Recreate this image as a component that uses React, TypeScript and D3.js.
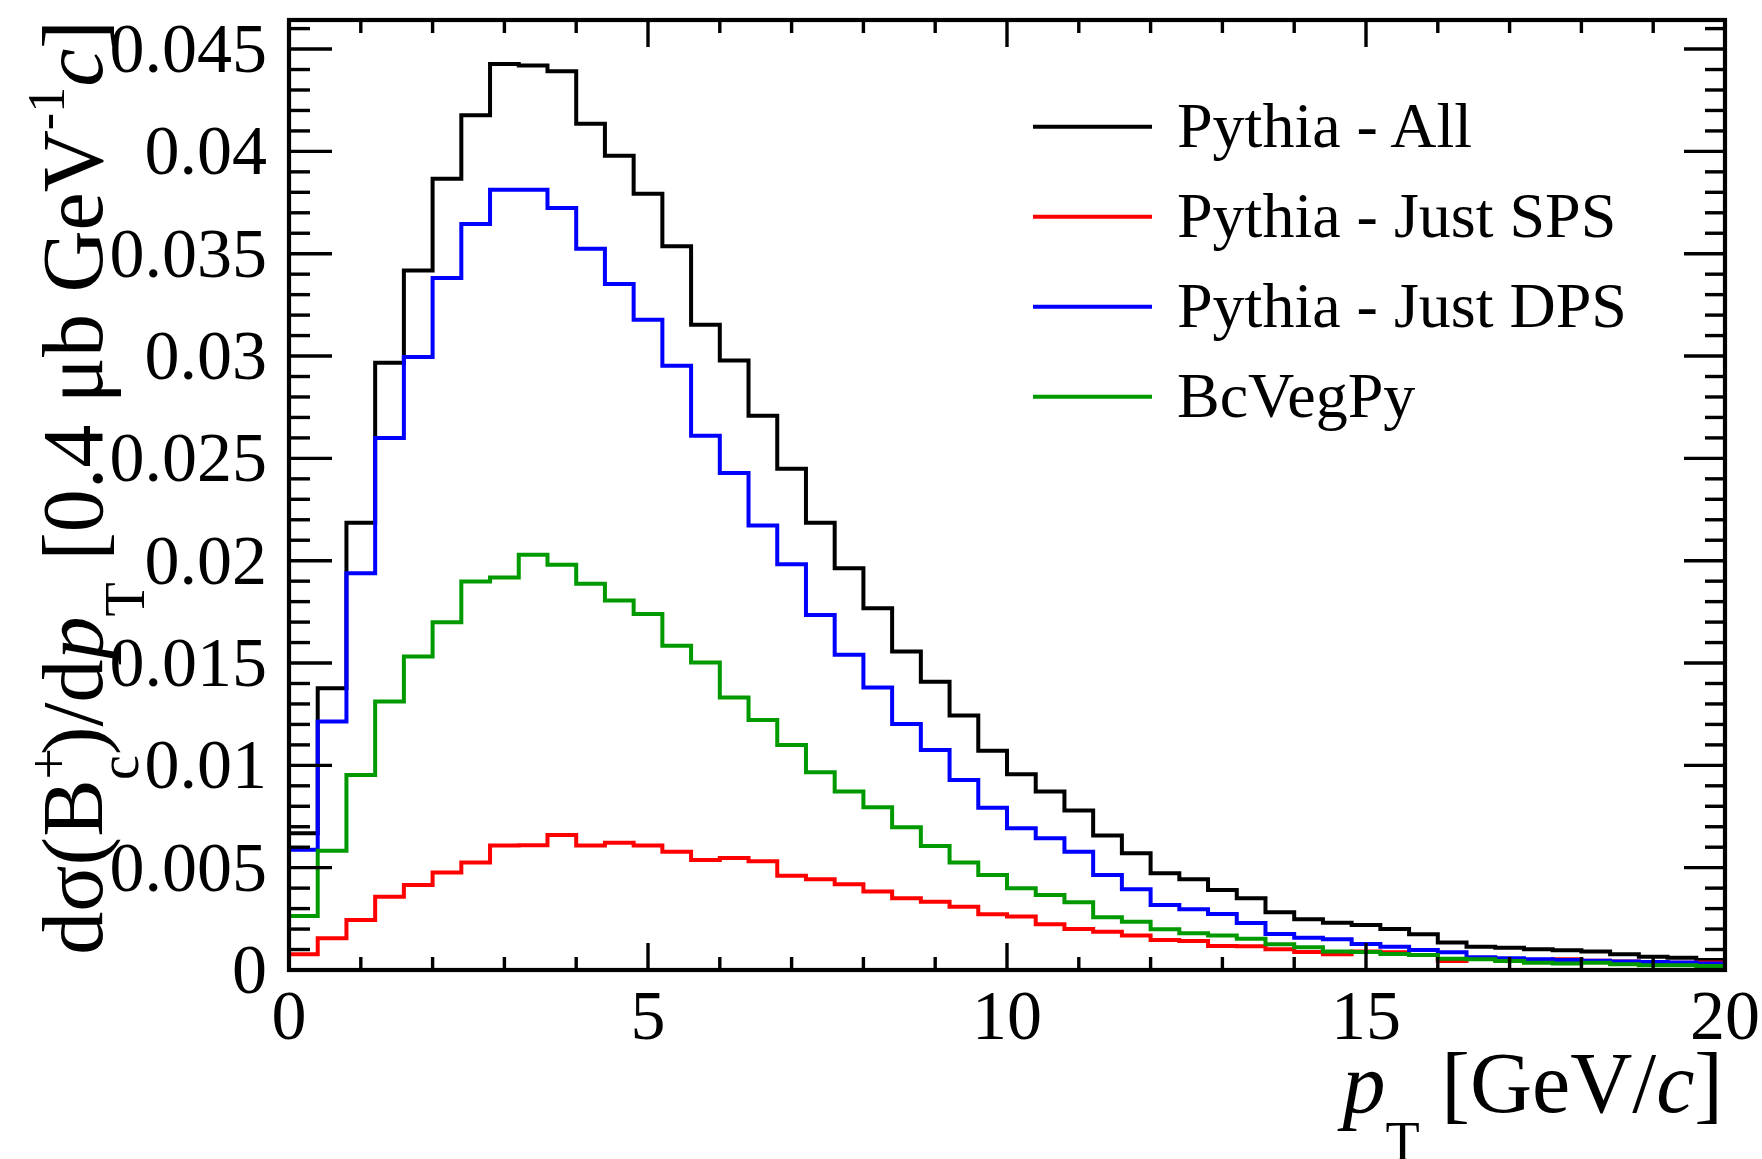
import * as d3 from 'd3';

// histogram binning (GeV/c)
const ptLow = 0;
const ptHigh = 20;
const binWidth = 0.4;

// d sigma / d pT per 0.4 GeV/c bin
const pythiaAll = [
  0.00668, 0.01377, 0.02186, 0.02967, 0.03418, 0.03866, 0.04176, 0.04427, 0.0442, 0.04391,
  0.04135, 0.03979, 0.03793, 0.03536, 0.03153, 0.02978, 0.02708, 0.02449, 0.02186, 0.01963,
  0.01768, 0.01556, 0.01409, 0.01243, 0.01071, 0.00957, 0.00872, 0.00779, 0.00657, 0.0057,
  0.00473, 0.00443, 0.00391, 0.0035, 0.00282, 0.00248, 0.00231, 0.0022, 0.002, 0.00175,
  0.00134, 0.00114, 0.00109, 0.00101, 0.00096, 0.0009, 0.00077, 0.00065, 0.0006, 0.00049,
];
const pythiaSPS = [
  0.00077, 0.00155, 0.00244, 0.00358, 0.00415, 0.00477, 0.00525, 0.00608, 0.0061, 0.0066,
  0.00608, 0.00622, 0.00608, 0.00578, 0.00538, 0.00547, 0.00531, 0.00461, 0.00443, 0.00419,
  0.00383, 0.0035, 0.00334, 0.00309, 0.00272, 0.00261, 0.00223, 0.002, 0.00187, 0.00168,
  0.00147, 0.00142, 0.00117, 0.00116, 0.00101, 0.00088, 0.00077, 0.0009, 0.00087, 0.00073,
  0.00044, 0.00057, 0.00049, 0.00049, 0.00052, 0.00045, 0.00042, 0.00039, 0.00036, 0.00037,
];
const pythiaDPS = [
  0.00587, 0.01214, 0.01939, 0.02599, 0.02995, 0.03381, 0.03645, 0.03813, 0.03813, 0.03723,
  0.03524, 0.03352, 0.03177, 0.02952, 0.0261, 0.02428, 0.02172, 0.01983, 0.01735, 0.0154,
  0.0138, 0.01202, 0.01075, 0.00929, 0.00793, 0.00693, 0.00644, 0.00578, 0.00464, 0.00394,
  0.00318, 0.00297, 0.00274, 0.0023, 0.00176, 0.00158, 0.0015, 0.00127, 0.00114, 0.00098,
  0.00087, 0.00062, 0.00057, 0.00052, 0.00049, 0.00045, 0.00042, 0.00039, 0.00037, 0.00032,
];
const bcVegPy = [
  0.00264, 0.00583, 0.00953, 0.01312, 0.01532, 0.01699, 0.01898, 0.01918, 0.02029, 0.0198,
  0.01887, 0.01805, 0.01739, 0.01585, 0.01502, 0.01331, 0.01222, 0.011, 0.00966, 0.00872,
  0.00795, 0.00698, 0.00606, 0.00525, 0.00464, 0.00399, 0.00367, 0.00331, 0.00258, 0.00236,
  0.00199, 0.00179, 0.00168, 0.00153, 0.00126, 0.00111, 0.00091, 0.00088, 0.00078, 0.00073,
  0.00055, 0.00052, 0.00044, 0.00036, 0.00032, 0.00036, 0.00028, 0.00023, 0.00023, 0.00019,
];

const seriesNames = ['Pythia - All', 'Pythia - Just SPS', 'Pythia - Just DPS', 'BcVegPy'];
const seriesColors = ['#000000', '#ff0000', '#0000ff', '#009900'];

const xTickValues = [0, 5, 10, 15, 20];
const yTickValues = [0, 0.005, 0.01, 0.015, 0.02, 0.025, 0.03, 0.035, 0.04, 0.045];
const yTop = 0.04642;

const W = 1762;
const H = 1159;
const frame = { left: 289, right: 1725, top: 20, bottom: 970 };
const font = "'Liberation Serif', 'DejaVu Serif', serif";

const App = () => {
  const x = d3.scaleLinear().domain([ptLow, ptHigh]).range([frame.left, frame.right]);
  const y = d3.scaleLinear().domain([0, yTop]).range([frame.bottom, frame.top]);

  const line = d3.line<[number, number]>()
    .x(d => x(d[0]))
    .y(d => y(d[1]));

  // ROOT-style outline: up from zero, steps across bins, down to zero
  const stepPath = (vals: number[]) => {
    const pts: [number, number][] = [[ptLow, 0]];
    vals.forEach((v, i) => {
      pts.push([ptLow + i * binWidth, v]);
      pts.push([ptLow + (i + 1) * binWidth, v]);
    });
    pts.push([ptHigh, 0]);
    return line(pts);
  };

  const allSeries = [pythiaAll, pythiaSPS, pythiaDPS, bcVegPy];

  const xMinor = d3.range(ptLow, ptHigh + 0.001, 1).filter(v => v % 5 !== 0);
  const yMinor = d3.range(0, yTop, 0.001).filter(v => Math.abs(v / 0.005 - Math.round(v / 0.005)) > 1e-6);

  const fmtY = (v: number) => String(+v.toFixed(3));

  return (
    <svg width={W} height={H} style={{ position: 'absolute', left: 0, top: 0, background: '#fff' }}
      fontFamily={font}>
      {/* histograms */}
      {allSeries.map((vals, i) => (
        <path key={seriesNames[i]} d={stepPath(vals) || ''} fill="none"
          stroke={seriesColors[i]} strokeWidth={4} strokeLinejoin="miter" />
      ))}

      {/* ticks */}
      <g stroke="#000" strokeWidth={3.4}>
        {xTickValues.map(v => (
          <g key={'xt' + v}>
            <line x1={x(v)} x2={x(v)} y1={frame.bottom} y2={frame.bottom - 27} />
            <line x1={x(v)} x2={x(v)} y1={frame.top} y2={frame.top + 27} />
          </g>
        ))}
        {xMinor.map(v => (
          <g key={'xm' + v}>
            <line x1={x(v)} x2={x(v)} y1={frame.bottom} y2={frame.bottom - 13} />
            <line x1={x(v)} x2={x(v)} y1={frame.top} y2={frame.top + 13} />
          </g>
        ))}
        {yTickValues.map(v => (
          <g key={'yt' + v}>
            <line x1={frame.left} x2={frame.left + 43} y1={y(v)} y2={y(v)} />
            <line x1={frame.right} x2={frame.right - 41} y1={y(v)} y2={y(v)} />
          </g>
        ))}
        {yMinor.map(v => (
          <g key={'ym' + v}>
            <line x1={frame.left} x2={frame.left + 21} y1={y(v)} y2={y(v)} />
            <line x1={frame.right} x2={frame.right - 20} y1={y(v)} y2={y(v)} />
          </g>
        ))}
      </g>

      {/* frame */}
      <rect x={frame.left} y={frame.top} width={frame.right - frame.left}
        height={frame.bottom - frame.top} fill="none" stroke="#000" strokeWidth={4.2} />

      {/* tick labels */}
      {xTickValues.map(v => (
        <text key={'xl' + v} x={x(v)} y={1039} fontSize={70} textAnchor="middle">{v}</text>
      ))}
      {yTickValues.map(v => (
        <text key={'yl' + v} x={267} y={y(v)} dy="0.33em" fontSize={70} textAnchor="end">{fmtY(v)}</text>
      ))}

      {/* axis titles */}
      <text x={1723} y={1112} fontSize={86} textAnchor="end">
        <tspan fontStyle="italic">p</tspan>
        <tspan fontSize={56} dy={49}>T</tspan>
        <tspan dy={-49}>{' [GeV/'}</tspan>
        <tspan fontStyle="italic">c</tspan>
        <tspan>]</tspan>
      </text>
      <text transform={`translate(102,${frame.top}) rotate(-90)`} fontSize={86} textAnchor="end">
        <tspan>dσ(B</tspan>
        <tspan fontSize={56} dy={-34}>+</tspan>
        <tspan fontSize={56} dx={-32} dy={70}>c</tspan>
        <tspan dy={-36}>)/d</tspan>
        <tspan fontStyle="italic">p</tspan>
        <tspan fontSize={56} dy={42}>T</tspan>
        <tspan dy={-42}>{' [0.4 μb GeV'}</tspan>
        <tspan fontSize={52} dy={-38}>-1</tspan>
        <tspan fontStyle="italic" dy={38}>c</tspan>
        <tspan>]</tspan>
      </text>

      {/* legend */}
      {seriesNames.map((name, i) => {
        const ly = 126.7 + i * 90;
        return (
          <g key={'lg' + name}>
            <line x1={1033} x2={1152} y1={ly} y2={ly} stroke={seriesColors[i]} strokeWidth={4} />
            <text x={1177} y={ly + 20} fontSize={64}>{name}</text>
          </g>
        );
      })}
    </svg>
  );
};

export default App;
